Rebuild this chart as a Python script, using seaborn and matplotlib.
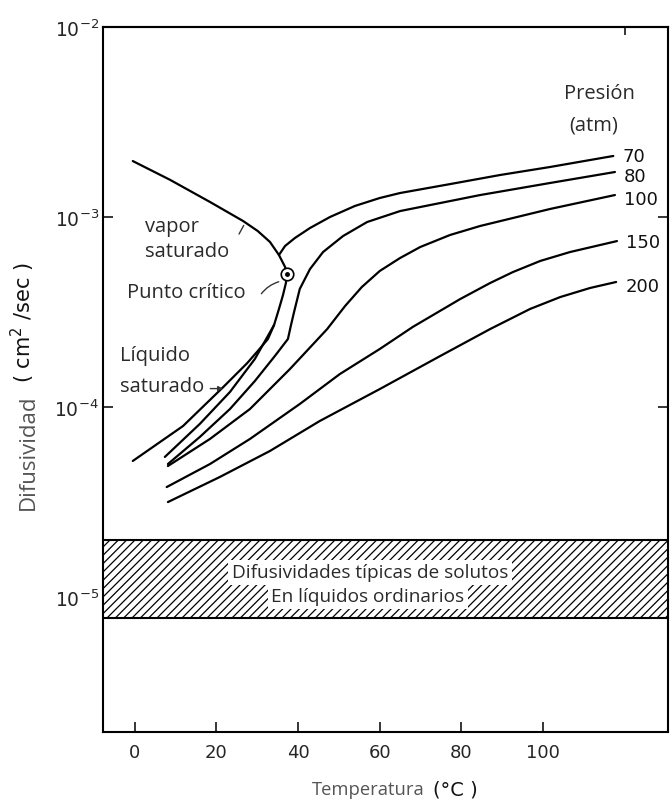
import numpy as np
import pandas as pd
import matplotlib
matplotlib.use("Agg")
import matplotlib.pyplot as plt
import seaborn as sns
from matplotlib.ticker import NullLocator, FixedLocator

# ---- data: self-diffusivity vs temperature ----
# saturation envelope (vapour branch -> critical point -> liquid branch)
sat_T = [-0.5, 8.6, 18.4, 26.5, 30.1, 33.1, 35.3, 36.8, 37.2,
         37.0, 36.3, 35.3, 34.1, 32.6, 30.1, 27.5, 21.6, 11.8, -0.5]
sat_D = [1.97e-3, 1.57e-3, 1.20e-3, 9.53e-4, 8.44e-4, 7.39e-4, 6.31e-4, 5.46e-4, 5.01e-4,
         4.49e-4, 3.89e-4, 3.28e-4, 2.70e-4, 2.28e-4, 1.97e-4, 1.70e-4, 1.27e-4, 7.94e-5, 5.20e-5]

crit_T, crit_D = 37.2, 5.01e-4

# isobars (atm)
p70_liq_T = [7.35, 15.9, 23.3, 29.4, 34.1]
p70_liq_D = [5.46e-5, 8.14e-5, 1.20e-4, 1.79e-4, 2.70e-4]
p70_vap_T = [35.3, 36.8, 39.2, 42.9, 47.8, 53.9, 60.0, 64.95, 77.2, 89.5, 101.7, 117.2]
p70_vap_D = [6.31e-4, 7.04e-4, 7.75e-4, 8.75e-4, 1.0e-3, 1.143e-3, 1.259e-3, 1.337e-3,
             1.49e-3, 1.664e-3, 1.833e-3, 2.095e-3]

p80_T = [8.1, 15.9, 23.3, 29.4, 34.3, 37.5, 38.2, 39.0, 40.4, 42.9, 46.1, 51.0,
         56.9, 65.0, 84.6, 101.7, 117.6]
p80_D = [5.01e-5, 6.95e-5, 9.76e-5, 1.37e-4, 1.855e-4, 2.28e-4, 2.67e-4, 3.16e-4,
         4.18e-4, 5.32e-4, 6.54e-4, 7.94e-4, 9.41e-4, 1.075e-3, 1.305e-3, 1.51e-3, 1.725e-3]

p100_T = [8.1, 18.4, 28.2, 38.0, 47.1, 51.5, 55.6, 60.0, 64.95, 69.9, 77.2, 84.6, 101.7, 117.6]
p100_D = [4.89e-5, 6.79e-5, 9.76e-5, 1.585e-4, 2.57e-4, 3.40e-4, 4.28e-4, 5.20e-4,
          6.08e-4, 6.95e-4, 8.04e-4, 8.97e-4, 1.102e-3, 1.305e-3]

p150_T = [7.8, 18.4, 28.2, 40.4, 50.2, 60.0, 68.1, 79.7, 87.0, 92.6, 99.3, 106.6, 118.1]
p150_D = [3.79e-5, 5.01e-5, 6.79e-5, 1.037e-4, 1.49e-4, 2.02e-4, 2.64e-4, 3.70e-4,
          4.49e-4, 5.13e-4, 5.87e-4, 6.54e-4, 7.47e-4]

p200_T = [8.1, 20.8, 33.1, 45.3, 60.0, 74.8, 87.0, 96.8, 104.2, 111.5, 117.9]
p200_D = [3.16e-5, 4.28e-5, 5.87e-5, 8.44e-5, 1.243e-4, 1.855e-4, 2.57e-4, 3.28e-4,
          3.79e-4, 4.23e-4, 4.55e-4]

# typical solute diffusivities in ordinary liquids
band_lo, band_hi = 7.8e-6, 2.0e-5

x_ticks = [0, 20, 40, 60, 80, 100]
y_ticks = [1e-5, 1e-4, 1e-3, 1e-2]

pressure_labels = ["70", "80", "100", "150", "200"]
label_dy = [0, -4, -4, -1, -4]  # vertical nudge of each label, pixels

# ---- long-form table ----
segments = {
    "sat": (sat_T, sat_D),
    "70 liq": (p70_liq_T, p70_liq_D),
    "70 vap": (p70_vap_T, p70_vap_D),
    "80": (p80_T, p80_D),
    "100": (p100_T, p100_D),
    "150": (p150_T, p150_D),
    "200": (p200_T, p200_D),
}
frames = [pd.DataFrame({"T": t, "D": d, "curve": name}) for name, (t, d) in segments.items()]
df = pd.concat(frames, ignore_index=True)

# ---- figure ----
sns.set_style("white")
plt.rcParams["font.family"] = ["DejaVu Sans"]
plt.rcParams["hatch.linewidth"] = 0.9
plt.rcParams["hatch.color"] = "black"

fig = plt.figure(figsize=(6.7, 8.03), dpi=100)
ax = fig.add_axes([103 / 670, 1 - 733 / 803, 565 / 670, 705 / 803])
ax.set_yscale("log")

sns.lineplot(data=df, x="T", y="D", units="curve", estimator=None, sort=False,
             color="black", lw=1.6, ax=ax, legend=False)
for ln in ax.lines:
    ln.set_solid_joinstyle("round")

# solute band
ax.axhspan(band_lo, band_hi, facecolor="white", edgecolor="black", hatch="////",
           lw=0, zorder=1)
ax.axhline(band_lo, color="black", lw=1.5, zorder=2)
ax.axhline(band_hi, color="black", lw=1.5, zorder=2)

ann_font = dict(family=["Open Sans", "DejaVu Sans"], color="#2a2a2a", fontsize=14.5)
band_font = dict(family=["Open Sans", "DejaVu Sans"], color="#2a2a2a", fontsize=13.7)
band_box = dict(facecolor="white", edgecolor="none", pad=2.5)
ax.text(57.6, 1.35e-5, "Difusividades típicas de solutos", ha="center", va="center",
        bbox=band_box, zorder=3, **band_font)
ax.text(57.1, 1.01e-5, "En líquidos ordinarios", ha="center", va="center",
        bbox=band_box, zorder=3, **band_font)

# critical point marker
ax.plot([crit_T], [crit_D], marker="o", ms=9, mfc="white", mec="black", mew=1.2, zorder=4)
ax.plot([crit_T], [crit_D], marker="o", ms=2.5, color="black", zorder=5)

# annotations on the saturation curve
ax.text(2.45, 8.97e-4, "vapor", ha="left", va="center", **ann_font)
ax.text(2.45, 6.62e-4, "saturado", ha="left", va="center", **ann_font)
ax.annotate("", xy=(27.0, 9.3e-4), xytext=(25.2, 7.9e-4),
            arrowprops=dict(arrowstyle="-", lw=1.0, color="#333333"))
ax.text(-1.96, 4.03e-4, "Punto crítico", ha="left", va="center", **ann_font)
ax.annotate("", xy=(35.9, 4.6e-4), xytext=(30.6, 3.84e-4),
            arrowprops=dict(arrowstyle="-", lw=1.0, color="#333333",
                            connectionstyle="arc3,rad=-0.2"))
ax.text(-3.68, 1.88e-4, "Líquido", ha="left", va="center", **ann_font)
ax.text(-3.68, 1.29e-4, "saturado", ha="left", va="center", **ann_font)
ax.annotate("", xy=(22.3, 1.25e-4), xytext=(17.8, 1.25e-4),
            arrowprops=dict(arrowstyle="-|>", lw=1.0, color="#333333",
                            mutation_scale=7))

# pressure labels at the end of each isobar
ends = [(p70_vap_T, p70_vap_D), (p80_T, p80_D), (p100_T, p100_D),
        (p150_T, p150_D), (p200_T, p200_D)]
for lab, dy, (t, d) in zip(pressure_labels, label_dy, ends):
    ax.annotate(lab, xy=(t[-1], d[-1]), xytext=(9, dy), textcoords="offset pixels",
                ha="left", va="center", fontsize=13, color="#111111")
ax.text(113.7, 4.5e-3, "Presión", ha="center", va="center", **ann_font)
ax.text(112.5, 3.08e-3, "(atm)", ha="center", va="center", **ann_font)

# axes
ax.set_xlim(-7.8, 130.6)
ax.set_ylim(10 ** (-2 - 705 / 190), 1e-2)
ax.xaxis.set_major_locator(FixedLocator(x_ticks))
ax.yaxis.set_major_locator(FixedLocator(y_ticks))
ax.yaxis.set_minor_locator(NullLocator())
ax.xaxis.set_minor_locator(NullLocator())
ax.tick_params(axis="x", direction="in", length=7, width=1.3, labelsize=13, pad=8,
               bottom=True, top=False)
ax.tick_params(axis="y", direction="in", length=7, width=1.3, labelsize=13.5, pad=3,
               left=True, right=True)
for s in ax.spines.values():
    s.set_visible(True)
    s.set_color("black")
    s.set_linewidth(1.5)
ax.set_xlabel("")
ax.set_ylabel("")

top = ax.secondary_xaxis("top")
top.set_xticks([120])
top.tick_params(direction="in", length=6, width=1.3, labeltop=False)
top.spines["top"].set_linewidth(1.5)

lab_font = dict(family=["Open Sans", "DejaVu Sans"])
fig.text(28 / 670, 1 - 452 / 803, "Difusividad", rotation=90, ha="center", va="center",
         color="#555555", fontsize=16, **lab_font)
fig.text(23 / 670, 1 - 323 / 803, "( cm$^2$ /sec )", rotation=90, ha="center", va="center",
         color="#111111", fontsize=15)
fig.text(368 / 670, 1 - 790 / 803, "Temperatura", ha="center", va="center",
         color="#555555", fontsize=13.2, **lab_font)
fig.text(455 / 670, 1 - 790 / 803, "(°C )", ha="center", va="center",
         color="#111111", fontsize=14)

fig.savefig("out.png", dpi=100, facecolor="white")
